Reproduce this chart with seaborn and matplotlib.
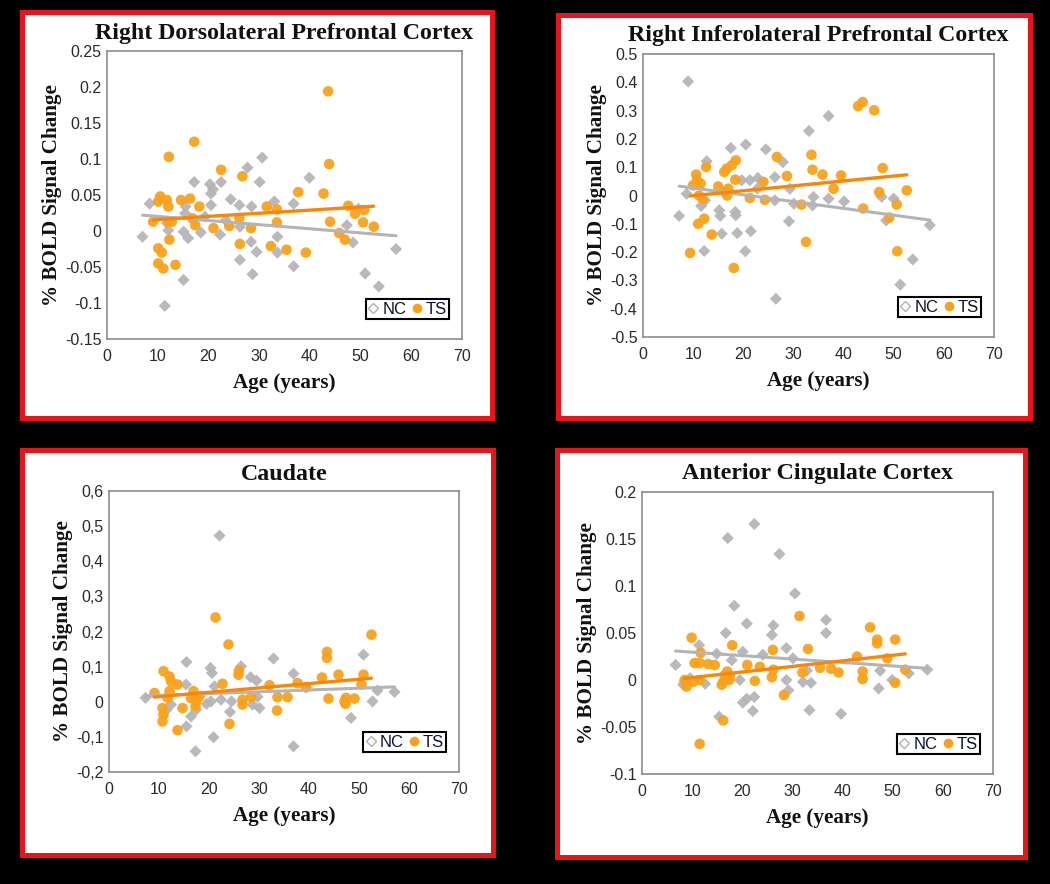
import numpy as np
import pandas as pd
import matplotlib
matplotlib.use("Agg")
import matplotlib.pyplot as plt
from matplotlib.patches import Rectangle
from matplotlib.lines import Line2D
import seaborn as sns

sns.set_theme(style="white")
plt.rcParams['font.family'] = ['Liberation Sans', 'DejaVu Sans']

# ---------------- data ----------------
titles = ["Right Dorsolateral Prefrontal Cortex", "Right Inferolateral Prefrontal Cortex",
          "Caudate", "Anterior Cingulate Cortex"]

# Panel 1 : Right DLPFC
dl_nc_age = [30.6, 27.7, 39.9, 17.2, 22.5, 30.1, 20.3, 20.9, 20.5, 24.4, 8.4, 33.0, 36.8, 26.1, 20.5,
             15.5, 28.5, 49.6, 15.4, 19.3, 23.4, 47.3, 12.1, 15.1, 18.5, 22.3, 7.0, 16.0, 26.2, 33.6,
             48.5, 28.4, 29.5, 33.6, 26.2, 36.8, 57.0, 15.1, 28.7, 50.9, 53.6, 11.4, 11.8]
dl_nc_val = [0.102, 0.088, 0.074, 0.068, 0.068, 0.068, 0.065, 0.058, 0.052, 0.044, 0.038, 0.041, 0.038,
             0.036, 0.036, 0.034, 0.034, 0.031, 0.0245, 0.020, 0.015, 0.008, 0.001, -0.001, -0.002,
             -0.005, -0.008, -0.010, 0.006, -0.008, -0.016, -0.015, -0.029, -0.030, -0.040, -0.049,
             -0.025, -0.068, -0.060, -0.059, -0.077, -0.104, 0.011]
dl_ts_age = [43.6, 17.2, 12.2, 43.8, 22.5, 26.7, 37.7, 42.7, 10.5, 10.1, 11.8, 14.6, 16.4, 12.1, 18.2,
             31.5, 33.5, 47.6, 50.7, 48.9, 9.1, 12.1, 12.8, 17.4, 16.8, 21.0, 24.1, 28.4, 33.5, 44.0,
             50.5, 52.6, 26.1, 45.8, 46.9, 12.3, 26.2, 32.3, 35.4, 39.2, 10.1, 10.8, 10.1, 11.1, 13.5]
dl_ts_val = [0.194, 0.124, 0.103, 0.093, 0.085, 0.076, 0.054, 0.052, 0.048, 0.041, 0.043, 0.043, 0.045,
             0.034, 0.034, 0.034, 0.030, 0.035, 0.029, 0.024, 0.013, 0.013, 0.013, 0.008, 0.0176,
             0.004, 0.007, 0.004, 0.012, 0.013, 0.012, 0.006, 0.018, -0.003, -0.012, -0.012, -0.018,
             -0.021, -0.026, -0.030, -0.024, -0.030, -0.045, -0.052, -0.047]

# Panel 2 : Right IFG
if_nc_age = [9.0, 37.0, 33.1, 20.5, 17.5, 24.5, 12.7, 27.9, 26.3, 19.7, 21.3, 22.9, 8.7, 12.4, 29.3,
             26.3, 30.1, 34.0, 37.0, 40.1, 47.6, 50.0, 11.6, 15.2, 18.4, 15.4, 18.5, 7.2, 29.1, 48.5,
             15.7, 18.8, 21.5, 12.2, 20.4, 57.2, 53.8, 51.3, 26.5, 22.8, 33.8]
if_nc_val = [0.403, 0.281, 0.228, 0.180, 0.168, 0.163, 0.121, 0.118, 0.065, 0.054, 0.054, 0.062, 0.006,
             -0.017, 0.024, -0.017, -0.029, -0.005, -0.011, -0.021, -0.005, -0.011, -0.037, -0.052,
             -0.058, -0.072, -0.070, -0.072, -0.091, -0.088, -0.135, -0.133, -0.126, -0.196, -0.197,
             -0.105, -0.226, -0.315, -0.365, 0.024, -0.035]
if_ts_age = [43.8, 42.9, 46.1, 33.6, 26.7, 18.5, 17.7, 16.7, 12.6, 47.8, 16.2, 33.8, 10.6, 35.8, 39.5,
             28.7, 10.8, 11.5, 18.4, 24.0, 15.0, 17.0, 38.0, 47.1, 52.6, 11.2, 11.9, 16.8, 21.3, 24.3,
             31.6, 43.9, 50.6, 12.2, 11.0, 13.7, 49.1, 32.5, 9.4, 50.7, 18.1, 10.0, 16.3]
if_ts_val = [0.330, 0.316, 0.301, 0.144, 0.136, 0.124, 0.107, 0.095, 0.101, 0.097, 0.083, 0.091, 0.074,
             0.074, 0.071, 0.069, 0.054, 0.042, 0.056, 0.048, 0.032, 0.024, 0.024, 0.012, 0.018, 0.0,
             -0.012, 0.0, -0.009, -0.015, -0.032, -0.046, -0.032, -0.082, -0.100, -0.138, -0.078,
             -0.164, -0.203, -0.197, -0.256, 0.036, 0.013]

# Panel 3 : Caudate
ca_nc_age = [22.1, 32.9, 50.9, 15.5, 20.3, 20.6, 26.4, 36.9, 28.3, 29.5, 15.4, 21.1, 29.7, 39.4, 53.7,
             57.1, 7.3, 52.7, 24.5, 22.4, 12.4, 19.5, 20.4, 28.7, 30.1, 24.2, 17.4, 16.4, 15.5, 48.4,
             20.9, 36.9, 17.3, 11.4]
ca_nc_val = [0.473, 0.123, 0.134, 0.113, 0.096, 0.082, 0.101, 0.080, 0.070, 0.060, 0.049, 0.044, 0.014,
             0.041, 0.032, 0.028, 0.011, 0.001, 0.001, 0.006, -0.008, -0.006, 0.001, -0.008, -0.018,
             -0.029, -0.023, -0.042, -0.070, -0.046, -0.101, -0.127, -0.141, -0.025]
ca_ts_age = [21.3, 52.5, 23.9, 43.6, 43.6, 10.9, 26.0, 12.1, 12.4, 13.7, 45.9, 42.6, 50.9, 37.7, 39.4,
             32.1, 22.7, 25.9, 9.1, 16.9, 17.3, 17.4, 17.3, 11.7, 12.1, 26.7, 26.7, 28.4, 33.7, 33.6,
             35.7, 43.9, 47.1, 47.4, 49.1, 50.5, 47.3, 10.7, 10.9, 10.7, 14.7, 13.7, 24.1, 16.4, 18.1]
ca_ts_val = [0.240, 0.191, 0.163, 0.142, 0.125, 0.087, 0.089, 0.072, 0.058, 0.049, 0.077, 0.069, 0.077,
             0.053, 0.041, 0.047, 0.051, 0.077, 0.025, 0.030, 0.015, 0.001, -0.013, 0.011, 0.030,
             0.006, -0.008, 0.013, 0.013, -0.025, 0.013, 0.009, 0.001, 0.011, 0.009, 0.049, -0.006,
             -0.018, -0.037, -0.056, -0.018, -0.081, -0.063, 0.010, 0.015]

# Panel 4 : ACC
ac_nc_age = [22.4, 17.1, 27.4, 30.5, 18.4, 20.9, 36.7, 16.7, 26.2, 25.9, 36.7, 28.8, 14.9, 20.1, 24.1,
             30.1, 11.4, 6.7, 17.9, 19.5, 28.8, 32.9, 47.5, 53.2, 56.9, 8.5, 32.1, 49.9, 33.7, 29.2,
             20.9, 20.1, 22.4, 22.1, 33.4, 39.7, 47.2, 15.4, 8.2, 9.6, 12.6]
ac_nc_val = [0.166, 0.151, 0.134, 0.092, 0.079, 0.060, 0.064, 0.050, 0.058, 0.048, 0.050, 0.034, 0.028,
             0.030, 0.027, 0.023, 0.037, 0.016, 0.021, 0.0, 0.0, 0.010, 0.010, 0.007, 0.011, -0.002,
             -0.002, 0.0, -0.003, -0.011, -0.020, -0.024, -0.018, -0.033, -0.032, -0.036, -0.009,
             -0.039, -0.005, 0.002, -0.004]
ac_ts_age = [31.4, 45.5, 9.9, 46.9, 50.5, 46.9, 18.0, 26.1, 33.1, 11.7, 10.5, 11.5, 13.2, 14.5, 21.0,
             42.9, 48.9, 23.5, 26.2, 35.5, 37.7, 39.2, 32.0, 17.0, 16.5, 44.0, 44.0, 52.5, 8.5, 10.2,
             11.5, 16.2, 22.5, 25.9, 17.4, 50.5, 8.9, 15.9, 28.3, 16.2, 11.5, 17.5]
ac_ts_val = [0.068, 0.056, 0.045, 0.043, 0.043, 0.039, 0.037, 0.032, 0.033, 0.029, 0.018, 0.018, 0.017,
             0.016, 0.016, 0.025, 0.023, 0.014, 0.011, 0.013, 0.012, 0.008, 0.008, 0.009, 0.005, 0.009,
             0.001, 0.011, 0.0, -0.002, 0.0, -0.002, -0.001, 0.003, 0.0, -0.003, -0.007, -0.005,
             -0.016, -0.043, -0.068, 0.004]

x_ticks = [0, 10, 20, 30, 40, 50, 60, 70]
y_ticks = [
    [-0.15, -0.1, -0.05, 0, 0.05, 0.1, 0.15, 0.2, 0.25],
    [-0.5, -0.4, -0.3, -0.2, -0.1, 0, 0.1, 0.2, 0.3, 0.4, 0.5],
    [-0.2, -0.1, 0, 0.1, 0.2, 0.3, 0.4, 0.5, 0.6],
    [-0.1, -0.05, 0, 0.05, 0.1, 0.15, 0.2],
]
y_ticklabels = [
    ["-0.15", "-0.1", "-0.05", "0", "0.05", "0.1", "0.15", "0.2", "0.25"],
    ["-0.5", "-0.4", "-0.3", "-0.2", "-0.1", "0", "0.1", "0.2", "0.3", "0.4", "0.5"],
    ["-0,2", "-0,1", "0", "0,1", "0,2", "0,3", "0,4", "0,5", "0,6"],
    ["-0.1", "-0.05", "0", "0.05", "0.1", "0.15", "0.2"],
]

panels = [
    (dl_nc_age, dl_nc_val, dl_ts_age, dl_ts_val),
    (if_nc_age, if_nc_val, if_ts_age, if_ts_val),
    (ca_nc_age, ca_nc_val, ca_ts_age, ca_ts_val),
    (ac_nc_age, ac_nc_val, ac_ts_age, ac_ts_val),
]

# ---------------- layout ----------------
W, H = 1050, 884
fig = plt.figure(figsize=(W / 100, H / 100), dpi=100, facecolor="black")

axes_px = [(107, 462, 51, 339), (643, 994, 54, 337), (109, 459, 491, 772), (642, 993, 492, 774)]
frame_px = [(22, 492, 12, 418), (558, 1030, 15, 418), (22, 493, 450, 855), (557, 1025, 450, 857)]
title_y_px = [34, 36, 474, 473]

NC_COLOR = "#b5b5b9"
TS_COLOR = "#f8a21c"
NC_LINE = "#b4b4b8"
TS_LINE = "#f7870a"

for (fl, fr, ft, fb) in frame_px:
    fig.patches.append(Rectangle((fl / W, 1 - fb / H), (fr - fl) / W, (fb - ft) / H,
                                 transform=fig.transFigure, facecolor="white",
                                 edgecolor="#e8141a", linewidth=3.6, zorder=-5))

for i, ((l, r, t, b), (na, nv, ta, tv)) in enumerate(zip(axes_px, panels)):
    ax = fig.add_axes([l / W, 1 - b / H, (r - l) / W, (b - t) / H])
    ax.set_zorder(2)
    ax.set_facecolor("white")
    nc = pd.DataFrame({"age": na, "val": nv})
    ts = pd.DataFrame({"age": ta, "val": tv})
    sns.scatterplot(data=nc, x="age", y="val", ax=ax, marker="D", s=38, color=NC_COLOR,
                    edgecolor="none", alpha=0.95, zorder=2)
    sns.scatterplot(data=ts, x="age", y="val", ax=ax, marker="o", s=58, color=TS_COLOR,
                    edgecolor="none", alpha=0.95, zorder=3)
    sns.regplot(data=nc, x="age", y="val", ax=ax, scatter=False, ci=None, truncate=True,
                line_kws={"color": NC_LINE, "lw": 2.2, "zorder": 4})
    sns.regplot(data=ts, x="age", y="val", ax=ax, scatter=False, ci=None, truncate=True,
                line_kws={"color": TS_LINE, "lw": 2.4, "zorder": 5})

    ax.set_xlim(0, 70)
    ax.set_ylim(y_ticks[i][0], y_ticks[i][-1])
    ax.set_xticks(x_ticks)
    ax.set_xticklabels([str(v) for v in x_ticks])
    ax.set_yticks(y_ticks[i])
    ax.set_yticklabels(y_ticklabels[i])
    ax.tick_params(axis="y", length=0, labelsize=11.5, colors="#2a2a2a", pad=4)
    ax.tick_params(axis="x", length=0, labelsize=11.5, colors="#2a2a2a", pad=7)
    for sp in ax.spines.values():
        sp.set_color("#8c8c8c")
        sp.set_linewidth(1.2)

    ax.set_xlabel("Age (years)", fontfamily="Liberation Serif", fontweight="bold",
                  fontsize=15.2, color="#111111", labelpad=7)
    ax.set_ylabel("% BOLD Signal Change", fontfamily="Liberation Serif", fontweight="bold",
                  fontsize=15.2, color="#111111", labelpad=2)

    fig.text(((l + r) / 2) / W, 1 - title_y_px[i] / H, titles[i], ha="center", va="center",
             fontfamily="Liberation Serif", fontweight="bold", fontsize=17.2, color="#111111")

    handles = [
        Line2D([], [], marker="D", linestyle="none", markersize=5, markerfacecolor="white",
               markeredgecolor="#b0b0b0", markeredgewidth=1.0),
        Line2D([], [], marker="o", linestyle="none", markersize=7, markerfacecolor=TS_COLOR,
               markeredgecolor="none"),
    ]
    leg = ax.legend(handles, ["NC", "TS"], ncol=2, loc="lower right", frameon=True,
                    fancybox=False, edgecolor="black", framealpha=1, handlelength=0.6,
                    handletextpad=0.25, columnspacing=0.3, borderpad=0.15,
                    prop={"size": 12}, bbox_to_anchor=(0.988, 0.04))
    leg.get_frame().set_linewidth(1.5)
    for txt in leg.get_texts():
        txt.set_color("#0d1030")

fig.savefig("out.png", dpi=100, facecolor="black")
